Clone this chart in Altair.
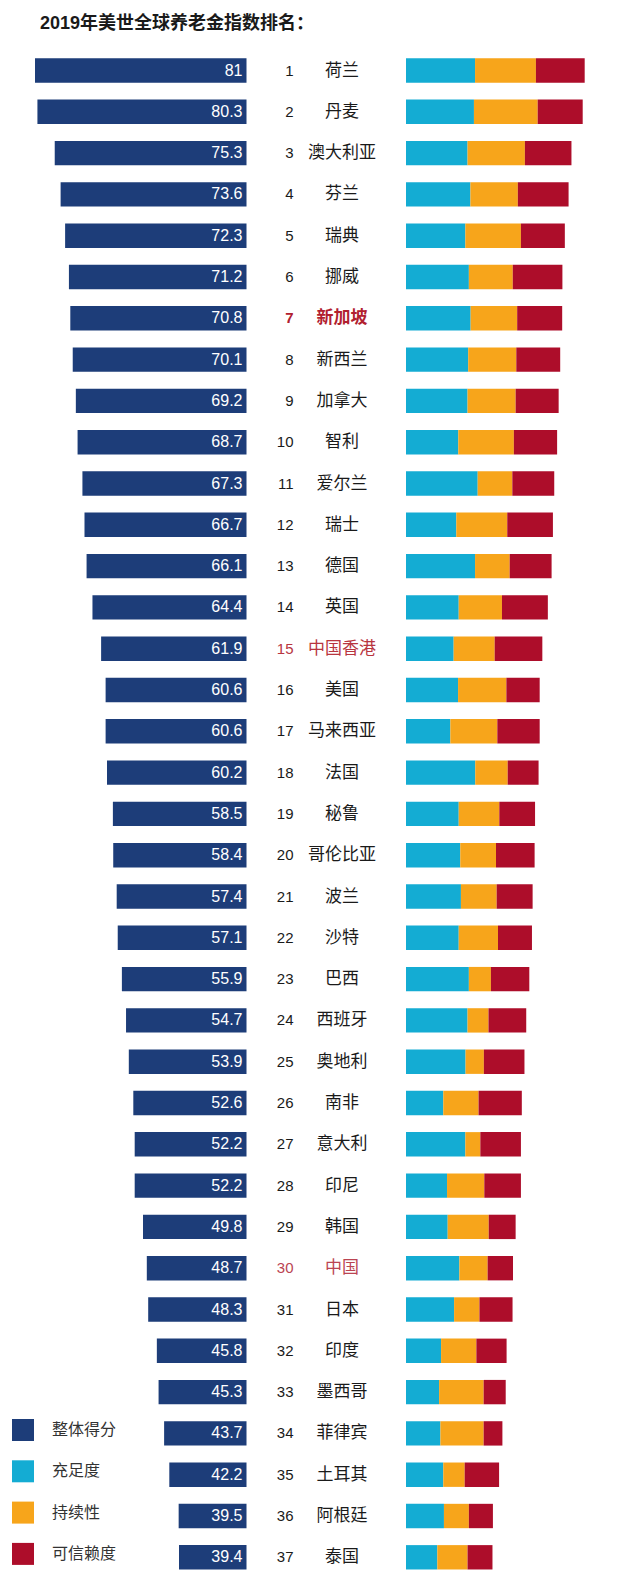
import altair as alt
import pandas as pd

countries = ["荷兰", "丹麦", "澳大利亚", "芬兰", "瑞典", "挪威", "新加坡", "新西兰", "加拿大", "智利",
             "爱尔兰", "瑞士", "德国", "英国", "中国香港", "美国", "马来西亚", "法国", "秘鲁", "哥伦比亚",
             "波兰", "沙特", "巴西", "西班牙", "奥地利", "南非", "意大利", "印尼", "韩国", "中国",
             "日本", "印度", "墨西哥", "菲律宾", "土耳其", "阿根廷", "泰国"]
scores = [81, 80.3, 75.3, 73.6, 72.3, 71.2, 70.8, 70.1, 69.2, 68.7,
          67.3, 66.7, 66.1, 64.4, 61.9, 60.6, 60.6, 60.2, 58.5, 58.4,
          57.4, 57.1, 55.9, 54.7, 53.9, 52.6, 52.2, 52.2, 49.8, 48.7,
          48.3, 45.8, 45.3, 43.7, 42.2, 39.5, 39.4]
# weighted sub-index contributions
adequacy = [31.3, 30.8, 27.9, 29.2, 26.9, 28.5, 29.3, 28.2, 27.9, 23.7,
            32.5, 22.8, 31.3, 23.9, 21.6, 23.6, 20.1, 31.4, 23.9, 24.6,
            24.9, 23.9, 28.5, 27.9, 27.0, 16.9, 26.9, 18.6, 18.9, 24.2,
            21.8, 15.9, 15.0, 15.6, 16.9, 17.2, 14.2]
sustainability = [27.6, 28.9, 26.0, 21.5, 25.2, 19.9, 21.1, 21.8, 21.8, 25.2,
                  15.7, 23.1, 15.7, 19.6, 18.6, 21.9, 21.3, 14.7, 18.4, 16.2,
                  16.2, 17.8, 10.0, 9.5, 8.3, 16.0, 6.8, 16.9, 18.6, 12.8,
                  11.5, 16.0, 20.2, 19.6, 9.7, 11.3, 13.7]
integrity = [22.1, 20.4, 21.1, 23.0, 19.9, 22.5, 20.4, 19.9, 19.5, 19.6,
             19.0, 20.7, 19.0, 20.8, 21.6, 15.1, 19.2, 14.0, 16.2, 17.5,
             16.3, 15.4, 17.4, 17.1, 18.4, 19.6, 18.4, 16.6, 12.2, 11.5,
             15.0, 13.7, 10.0, 8.5, 15.6, 10.9, 11.3]
highlighted = {"新加坡": "#b1202f", "中国香港": "#b8353f", "中国": "#bb4452"}

series_names = ["整体得分", "充足度", "持续性", "可信赖度"]
series_colors = ["#1d3d79", "#14acd3", "#f7a51b", "#ad0d2a"]
title_text = "2019年美世全球养老金指数排名："

ranks = list(range(1, len(countries) + 1))
base = pd.DataFrame({
    "rank": ranks,
    "country": countries,
    "score": scores,
    "label": [f"{s:g}" for s in scores],
    "component": series_names[0],
    "tcolor": [highlighted.get(c, "#1a1a1a") for c in countries],
})

rows = []
for i, r in enumerate(ranks):
    for k, vals in enumerate([adequacy, sustainability, integrity]):
        rows.append({"rank": r, "component": series_names[k + 1], "value": vals[i], "order": k})
comp = pd.DataFrame(rows)

LATIN = "Liberation Sans, Noto Sans CJK SC"
CJK = "Noto Sans CJK SC"

y_enc = alt.Y("rank:O", axis=None,
              scale=alt.Scale(domain=ranks, range=[1.85, 1529.95],
                              paddingInner=0.41, paddingOuter=0.205))

color_enc = alt.Color(
    "component:N",
    scale=alt.Scale(domain=series_names, range=series_colors),
    legend=alt.Legend(orient="none", legendX=4, legendY=1371, title=None,
                      symbolType="square", symbolSize=484, symbolStrokeWidth=0,
                      symbolOpacity=1, labelFontSize=16, labelFont=CJK,
                      labelColor="#333333", labelOffset=18, rowPadding=19.3,
                      padding=0, direction="vertical"),
)

left_min = 19.9
left_scale = alt.Scale(domain=[left_min, 81], range=[238.5, 27], zero=False, nice=False)

left_bars = alt.Chart(base).mark_bar().encode(
    x=alt.X("score:Q", scale=left_scale, axis=None),
    x2=alt.datum(left_min),
    y=y_enc,
    color=color_enc,
)

left_labels = alt.Chart(base).mark_text(
    align="right", baseline="middle", dx=-4, color="white", fontSize=16, font=LATIN
).encode(
    x=alt.XDatum(left_min, scale=left_scale, axis=None),
    y=y_enc,
    text="label:N",
)

rank_text = alt.Chart(base).mark_text(
    align="right", baseline="middle", fontSize=15, font=LATIN
).encode(
    x=alt.value(285.5), y=y_enc, text="rank:O",
    color=alt.Color("tcolor:N", scale=None),
).transform_filter("datum.rank != 7")

name_text = alt.Chart(base).mark_text(
    align="center", baseline="middle", fontSize=17, font=CJK
).encode(
    x=alt.value(334), y=y_enc, text="country:N",
    color=alt.Color("tcolor:N", scale=None),
).transform_filter("datum.rank != 7")

rank_bold = alt.Chart(base).mark_text(
    align="right", baseline="middle", fontSize=15, font=LATIN, fontWeight="bold"
).encode(
    x=alt.value(285.5), y=y_enc, text="rank:O",
    color=alt.Color("tcolor:N", scale=None),
).transform_filter("datum.rank == 7")

name_bold = alt.Chart(base).mark_text(
    align="center", baseline="middle", fontSize=17, font=CJK, fontWeight="bold"
).encode(
    x=alt.value(334), y=y_enc, text="country:N",
    color=alt.Color("tcolor:N", scale=None),
).transform_filter("datum.rank == 7")

stack_bars = alt.Chart(comp).mark_bar().encode(
    x=alt.X("value:Q", stack="zero", axis=None,
            scale=alt.Scale(domain=[0, 100], range=[398, 618.6], nice=False)),
    y=y_enc,
    color=color_enc,
    order=alt.Order("order:Q"),
)

chart = alt.layer(
    left_bars, left_labels, rank_text, name_text, rank_bold, name_bold, stack_bars
).resolve_scale(
    x="independent"
).properties(
    width=624,
    height=1527,
    background="white",
    padding={"left": 0, "top": 40, "right": 0, "bottom": 0},
    autosize=alt.AutoSizeParams(type="none"),
    title=alt.TitleParams(title_text, anchor="start", frame="group", fontSize=18,
                          fontWeight="bold", font=LATIN, color="#1a1a1a",
                          dx=32, dy=-15, offset=0),
).configure_view(stroke=None)

chart.save("out.html", embed_options={"renderer": "svg", "actions": False})
